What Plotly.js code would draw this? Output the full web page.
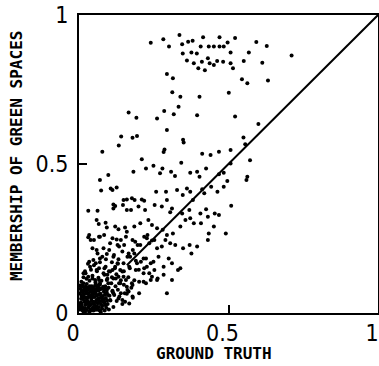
<!DOCTYPE html>
<html>
<head>
<meta charset="utf-8">
<script src="https://cdn.plot.ly/plotly-3.0.1.min.js"></script>
<style>html,body{margin:0;padding:0;background:#fff;}#chart{width:379px;height:366px;}</style>
</head>
<body>
<div id="chart"></div>
<script>
// [ground truth, membership of green spaces]
const topPts = [[0.240,0.907],[0.282,0.919],[0.336,0.933],[0.301,0.894],[0.345,0.902],[0.365,0.910],[0.380,0.914],[0.415,0.925],[0.470,0.925],[0.497,0.908],[0.522,0.923],[0.593,0.909],[0.628,0.896],[0.347,0.871],[0.376,0.874],[0.394,0.871],[0.407,0.894],[0.434,0.894],[0.451,0.894],[0.470,0.894],[0.484,0.894],[0.507,0.874],[0.568,0.874],[0.361,0.847],[0.384,0.838],[0.399,0.821],[0.411,0.843],[0.421,0.815],[0.431,0.855],[0.437,0.838],[0.451,0.832],[0.462,0.846],[0.482,0.843],[0.507,0.838],[0.515,0.821],[0.551,0.846],[0.613,0.840],[0.711,0.864],[0.294,0.802],[0.314,0.788],[0.545,0.784],[0.563,0.771],[0.632,0.780]];
const upperPts = [[0.312,0.741],[0.339,0.726],[0.403,0.726],[0.501,0.739],[0.166,0.673],[0.192,0.655],[0.285,0.678],[0.317,0.667],[0.333,0.692],[0.261,0.653],[0.294,0.614],[0.395,0.664],[0.522,0.659],[0.600,0.634],[0.550,0.589],[0.556,0.566],[0.348,0.581],[0.350,0.572],[0.412,0.534],[0.440,0.530],[0.468,0.541],[0.507,0.547],[0.507,0.502],[0.572,0.513],[0.563,0.457],[0.560,0.446],[0.078,0.541],[0.133,0.562],[0.141,0.592],[0.179,0.588],[0.194,0.594],[0.286,0.549],[0.283,0.540],[0.210,0.516],[0.224,0.485],[0.182,0.474],[0.249,0.494],[0.279,0.485],[0.271,0.469],[0.308,0.474],[0.321,0.460],[0.342,0.504],[0.372,0.471],[0.395,0.474],[0.403,0.457],[0.425,0.485],[0.468,0.466],[0.484,0.471],[0.496,0.443]];
const midPts = [[0.070,0.446],[0.098,0.463],[0.074,0.411],[0.106,0.418],[0.112,0.413],[0.126,0.421],[0.115,0.364],[0.121,0.359],[0.149,0.379],[0.160,0.381],[0.177,0.385],[0.186,0.379],[0.210,0.381],[0.218,0.377],[0.258,0.407],[0.291,0.407],[0.328,0.413],[0.347,0.396],[0.361,0.418],[0.372,0.407],[0.381,0.379],[0.412,0.415],[0.419,0.402],[0.442,0.424],[0.463,0.407],[0.484,0.424],[0.509,0.360],[0.031,0.343],[0.062,0.343],[0.115,0.351],[0.147,0.362],[0.160,0.346],[0.174,0.346],[0.199,0.357],[0.221,0.346],[0.253,0.362],[0.277,0.357],[0.294,0.379],[0.311,0.351],[0.305,0.338],[0.345,0.334],[0.369,0.346],[0.372,0.318],[0.406,0.334],[0.425,0.348],[0.431,0.323],[0.454,0.334],[0.468,0.329],[0.059,0.312],[0.066,0.299],[0.089,0.303],[0.093,0.287],[0.121,0.290],[0.132,0.281],[0.154,0.287],[0.160,0.273],[0.185,0.290],[0.205,0.301],[0.232,0.312],[0.244,0.295],[0.261,0.284],[0.280,0.279],[0.294,0.262],[0.314,0.267],[0.339,0.290],[0.356,0.312],[0.384,0.301],[0.408,0.301],[0.434,0.267],[0.451,0.290],[0.491,0.267],[0.431,0.245]];
const lowPts = [[0.031,0.254],[0.039,0.245],[0.070,0.256],[0.082,0.217],[0.059,0.211],[0.093,0.198],[0.104,0.234],[0.126,0.247],[0.134,0.223],[0.151,0.228],[0.166,0.200],[0.180,0.211],[0.188,0.239],[0.205,0.228],[0.227,0.251],[0.244,0.243],[0.261,0.217],[0.277,0.223],[0.289,0.245],[0.305,0.234],[0.322,0.228],[0.348,0.217],[0.370,0.228],[0.376,0.200],[0.395,0.223],[0.048,0.178],[0.070,0.183],[0.115,0.189],[0.132,0.180],[0.149,0.167],[0.171,0.189],[0.194,0.167],[0.216,0.183],[0.227,0.155],[0.249,0.172],[0.266,0.189],[0.283,0.155],[0.300,0.183],[0.311,0.167],[0.339,0.150],[0.331,0.144],[0.216,0.133],[0.244,0.122],[0.261,0.111],[0.283,0.128],[0.311,0.111],[0.216,0.105],[0.294,0.066],[0.180,0.051],[0.138,0.100],[0.160,0.088],[0.177,0.100],[0.153,0.066],[0.166,0.072],[0.121,0.155],[0.138,0.144],[0.104,0.139],[0.082,0.133],[0.059,0.144],[0.037,0.155],[0.031,0.122],[0.054,0.111],[0.070,0.100],[0.093,0.111],[0.115,0.116],[0.132,0.122],[0.149,0.122],[0.015,0.133],[0.015,0.100],[0.059,0.077],[0.093,0.077],[0.115,0.066],[0.132,0.049],[0.104,0.044],[0.082,0.038],[0.154,0.038]];
const lowPts2 = [[0.034,0.262],[0.050,0.245],[0.067,0.256],[0.084,0.262],[0.112,0.251],[0.129,0.228],[0.140,0.245],[0.157,0.256],[0.179,0.245],[0.196,0.228],[0.218,0.256],[0.229,0.262],[0.235,0.234],[0.252,0.245],[0.045,0.217],[0.062,0.200],[0.078,0.189],[0.101,0.211],[0.117,0.195],[0.145,0.206],[0.162,0.189],[0.185,0.200],[0.207,0.172],[0.224,0.183],[0.240,0.167],[0.034,0.172],[0.056,0.167],[0.067,0.150],[0.089,0.155],[0.112,0.144],[0.129,0.167],[0.145,0.139],[0.168,0.155],[0.190,0.144],[0.218,0.150],[0.235,0.133],[0.252,0.144],[0.263,0.116],[0.022,0.133],[0.045,0.116],[0.067,0.111],[0.095,0.128],[0.123,0.116],[0.134,0.100],[0.157,0.111],[0.179,0.094],[0.201,0.105],[0.224,0.100],[0.240,0.111],[0.022,0.088],[0.050,0.077],[0.084,0.083],[0.112,0.072],[0.140,0.066],[0.162,0.077],[0.179,0.055],[0.201,0.066],[0.145,0.044],[0.168,0.032]];
const clusterPts = [[0.004,0.012],[0.006,0.035],[0.008,0.058],[0.005,0.081],[0.010,0.022],[0.012,0.047],[0.013,0.069],[0.011,0.093],[0.016,0.015],[0.018,0.039],[0.017,0.062],[0.019,0.085],[0.021,0.028],[0.023,0.051],[0.022,0.074],[0.025,0.010],[0.027,0.043],[0.026,0.097],[0.029,0.064],[0.031,0.019],[0.033,0.036],[0.032,0.083],[0.035,0.055],[0.037,0.012],[0.038,0.071],[0.040,0.029],[0.041,0.047],[0.043,0.090],[0.045,0.062],[0.046,0.018],[0.048,0.038],[0.050,0.079],[0.052,0.054],[0.053,0.027],[0.055,0.068],[0.057,0.011],[0.058,0.044],[0.060,0.088],[0.062,0.060],[0.063,0.033],[0.065,0.075],[0.067,0.020],[0.068,0.050],[0.070,0.095],[0.072,0.065],[0.074,0.040],[0.076,0.082],[0.078,0.025],[0.080,0.057],[0.083,0.072],[0.085,0.035],[0.088,0.090],[0.090,0.050],[0.093,0.068],[0.096,0.030],[0.099,0.085],[0.102,0.058],[0.105,0.042],[0.108,0.100],[0.112,0.075],[0.115,0.020],[0.118,0.060],[0.122,0.090],[0.126,0.040],[0.130,0.078],[0.135,0.055],[0.140,0.110],[0.145,0.030],[0.150,0.095],[0.008,0.105],[0.015,0.120],[0.025,0.115],[0.035,0.108],[0.045,0.125],[0.055,0.102],[0.065,0.118],[0.075,0.108],[0.085,0.128],[0.095,0.115],[0.003,0.066],[0.014,0.006],[0.034,0.004],[0.049,0.008],[0.071,0.007],[0.020,0.003],[0.007,0.048],[0.044,0.072],[0.061,0.015],[0.079,0.045],[0.091,0.018],[0.039,0.058],[0.028,0.085],[0.054,0.092],[0.016,0.077],[0.066,0.085],[0.098,0.100],[0.110,0.120],[0.125,0.130],[0.100,0.140],[0.120,0.150],[0.085,0.150],[0.060,0.140],[0.040,0.145],[0.020,0.140],[0.030,0.165],[0.050,0.160],[0.070,0.170],[0.090,0.180],[0.110,0.170],[0.130,0.165],[0.150,0.140],[0.165,0.120],[0.175,0.085],[0.160,0.065],[0.185,0.110],[0.200,0.145],[0.190,0.175],[0.170,0.150]];
const clusterPts2 = [[0.002,0.025],[0.009,0.031],[0.014,0.055],[0.020,0.017],[0.024,0.066],[0.028,0.030],[0.030,0.052],[0.036,0.024],[0.042,0.008],[0.044,0.052],[0.047,0.030],[0.051,0.066],[0.056,0.037],[0.059,0.022],[0.061,0.078],[0.064,0.048],[0.066,0.010],[0.069,0.063],[0.073,0.030],[0.075,0.053],[0.077,0.015],[0.081,0.088],[0.084,0.046],[0.087,0.062],[0.089,0.026],[0.092,0.080],[0.094,0.042],[0.097,0.060],[0.003,0.092],[0.009,0.074],[0.013,0.088],[0.019,0.050],[0.024,0.038],[0.027,0.076],[0.033,0.067],[0.036,0.090],[0.040,0.078],[0.042,0.040],[0.047,0.085],[0.051,0.017],[0.054,0.080],[0.058,0.058],[0.063,0.093],[0.067,0.038],[0.071,0.080],[0.073,0.004],[0.086,0.008],[0.100,0.012],[0.011,0.010],[0.006,0.018]];
const lineX = [0.16, 1];
const lineY = [0.16, 1];
const tickVals = [0, 0.5, 1];
const tickText = ['0', '0.5', '1'];
const xTitle = 'GROUND TRUTH';
const yTitle = 'MEMBERSHIP OF GREEN SPACES';

const allPts = [].concat(topPts, upperPts, midPts, lowPts, lowPts2, clusterPts, clusterPts2);
const ptsX = allPts.map(p => p[0]);
const ptsY = allPts.map(p => p[1]);

const tickFont = {family: '"DejaVu Sans Condensed", "Liberation Sans Narrow", "DejaVu Sans", sans-serif', size: 23, color: '#000'};
const titleFont = {family: '"DejaVu Sans Mono", monospace', size: 16, color: '#000', weight: 'bold'};

const axisCommon = {
  range: [0, 1], tickmode: 'array', tickvals: tickVals, ticktext: tickText,
  ticks: 'inside', ticklen: 8, tickwidth: 2, tickcolor: '#000',
  showline: true, mirror: true, linewidth: 2, linecolor: '#000',
  showgrid: false, zeroline: false, tickfont: tickFont, fixedrange: true,
  ticklabeloverflow: 'allow'
};

const data = [
  {x: ptsX, y: ptsY, type: 'scatter', mode: 'markers', marker: {color: '#000', size: 4}, hoverinfo: 'none'},
  {x: lineX, y: lineY, type: 'scatter', mode: 'lines', line: {color: '#000', width: 2}, hoverinfo: 'none'}
];

const layout = {
  width: 379, height: 366,
  margin: {l: 79, r: 1, t: 15, b: 53},
  paper_bgcolor: '#fff', plot_bgcolor: '#fff',
  showlegend: false,
  xaxis: Object.assign({}, axisCommon, {ticklabelshift: -6, ticklabelstandoff: -2}),
  yaxis: Object.assign({}, axisCommon, {ticklabelstandoff: 4}),
  annotations: [
    {text: xTitle, xref: 'paper', yref: 'paper', x: 0.452, y: -0.172, xanchor: 'center', yanchor: 'bottom', borderpad: 0, showarrow: false, font: titleFont},
    {text: yTitle, xref: 'paper', yref: 'paper', x: -0.207, y: 0.527, xanchor: 'center', yanchor: 'middle', textangle: -90, showarrow: false, font: titleFont}
  ]
};

Plotly.newPlot('chart', data, layout, {displayModeBar: false, staticPlot: true});
</script>
</body>
</html>
